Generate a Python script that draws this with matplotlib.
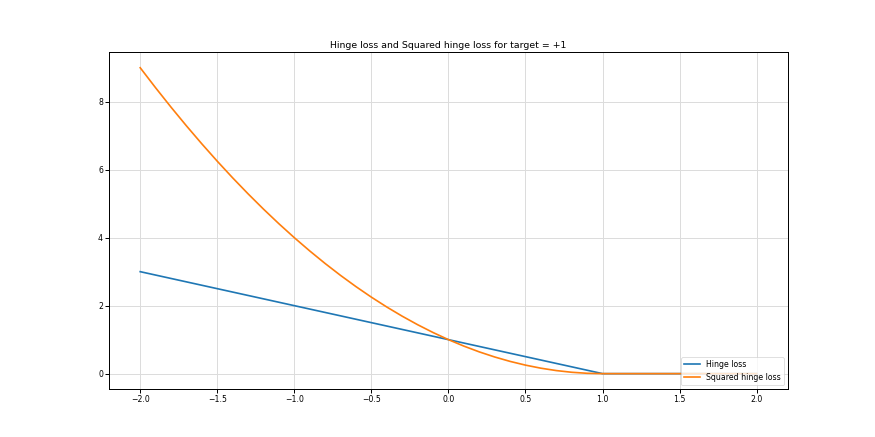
import matplotlib
matplotlib.use('Agg')
import matplotlib.pyplot as plt
import numpy as np

# predictions (x axis), 0.1 step
x_vals = np.round(np.arange(-20, 21) / 10.0, 1)

hinge_vals = [3.0, 2.9, 2.8, 2.7, 2.6, 2.5, 2.4, 2.3, 2.2, 2.1,
              2.0, 1.9, 1.8, 1.7, 1.6, 1.5, 1.4, 1.3, 1.2, 1.1,
              1.0, 0.9, 0.8, 0.7, 0.6, 0.5, 0.4, 0.3, 0.2, 0.1,
              0.0, 0.0, 0.0, 0.0, 0.0, 0.0, 0.0, 0.0, 0.0, 0.0, 0.0]

sq_hinge_vals = [9.0, 8.41, 7.84, 7.29, 6.76, 6.25, 5.76, 5.29, 4.84, 4.41,
                 4.0, 3.61, 3.24, 2.89, 2.56, 2.25, 1.96, 1.69, 1.44, 1.21,
                 1.0, 0.81, 0.64, 0.49, 0.36, 0.25, 0.16, 0.09, 0.04, 0.01,
                 0.0, 0.0, 0.0, 0.0, 0.0, 0.0, 0.0, 0.0, 0.0, 0.0, 0.0]

# big figure rendered at a low dpi, like the original
dpi = 875 / 16
fig, ax = plt.subplots(figsize=(16, 437 / dpi), dpi=dpi)
ax.plot(x_vals, hinge_vals, label='Hinge loss', linewidth=2.2)
ax.plot(x_vals, sq_hinge_vals, label='Squared hinge loss', linewidth=2.2)
ax.set_title('Hinge loss and Squared hinge loss for target = +1', fontsize=12.3)
ax.tick_params(labelsize=10.2, width=1.3, length=5)
for sp in ax.spines.values():
    sp.set_linewidth(1.3)
ax.grid(True, color='#dcdcdc', linewidth=1.3)
ax.legend(loc='lower right', fontsize=10.2)
plt.savefig('out.png', dpi=dpi)
